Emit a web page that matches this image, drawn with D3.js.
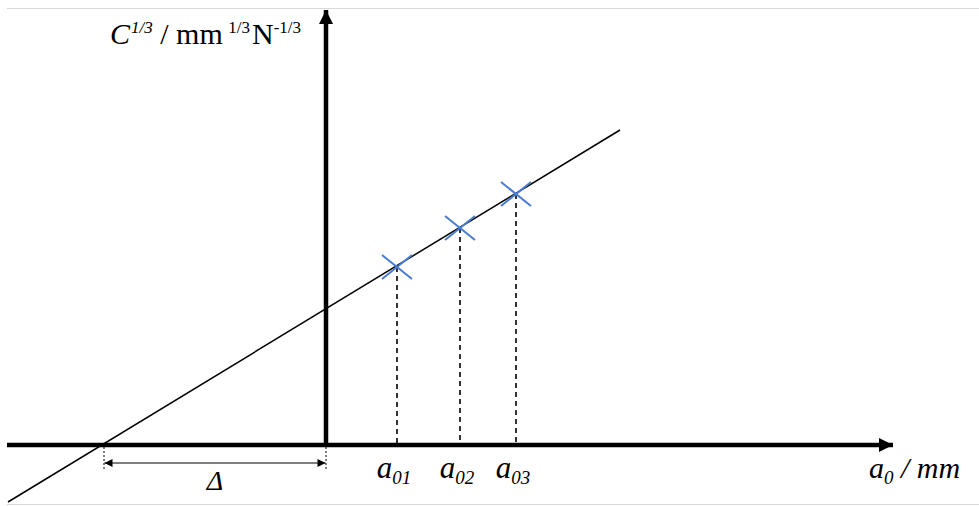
<!DOCTYPE html>
<html><head><meta charset="utf-8">
<script src="https://cdn.jsdelivr.net/npm/d3@7"></script>
<style>body{margin:0;background:#fff}svg{display:block}text{font-family:"Liberation Serif","Times New Roman",serif;fill:#000}</style>
</head><body>
<script>
// Data (arbitrary units; x origin at the vertical axis)
const pointLabels = ["01", "02", "03"];
const pointA = [7.1, 13.4, 19.0];
const pointC = [17.8, 21.7, 25.1];
const fitX = [-31.8, 29.4];
const fitY = [-5.7, 31.5];
const deltaRange = [-22.2, 0];
const xAxisRange = [-31.9, 56.7];
const yAxisRange = [0, 43.5];

const W = 979, H = 506;
const svg = d3.select("body").append("svg").attr("width", W).attr("height", H);

const x = d3.scaleLinear().domain([0, 10]).range([326, 426]);
const y = d3.scaleLinear().domain([0, 10]).range([445, 345]);

// thin gray frame lines
svg.append("line").attr("x1", 7).attr("x2", W).attr("y1", 8.5).attr("y2", 8.5).attr("stroke", "#d9d9d9").attr("stroke-width", 1);
svg.append("line").attr("x1", 7).attr("x2", W).attr("y1", 504.5).attr("y2", 504.5).attr("stroke", "#d9d9d9").attr("stroke-width", 1);

const defs = svg.append("defs");
defs.append("marker").attr("id", "axhead").attr("viewBox", "0 0 10 10").attr("refX", 10).attr("refY", 5)
  .attr("markerUnits", "userSpaceOnUse").attr("markerWidth", 14).attr("markerHeight", 15).attr("orient", "auto")
  .append("path").attr("d", "M0,0L10,5L0,10Z").attr("fill", "#000");
defs.append("marker").attr("id", "dhead").attr("viewBox", "0 0 10 10").attr("refX", 10).attr("refY", 5)
  .attr("markerUnits", "userSpaceOnUse").attr("markerWidth", 9).attr("markerHeight", 8).attr("orient", "auto-start-reverse")
  .append("path").attr("d", "M0,0L10,5L0,10Z").attr("fill", "#000");

// dashed drop lines
const pts = pointA.map((a, i) => ({a, c: pointC[i], lab: pointLabels[i]}));
svg.selectAll(".drop").data(pts).join("line")
  .attr("x1", d => x(d.a)).attr("x2", d => x(d.a))
  .attr("y1", d => y(d.c)).attr("y2", y(0))
  .attr("stroke", "#000").attr("stroke-width", 1.6).attr("stroke-dasharray", "5,4");

// fitted line
svg.append("line").attr("x1", x(fitX[0])).attr("y1", y(fitY[0])).attr("x2", x(fitX[1])).attr("y2", y(fitY[1]))
  .attr("stroke", "#000").attr("stroke-width", 1.5);

// axes
svg.append("line").attr("x1", x(xAxisRange[0])).attr("x2", x(xAxisRange[1])).attr("y1", y(0)).attr("y2", y(0))
  .attr("stroke", "#000").attr("stroke-width", 4.5).attr("marker-end", "url(#axhead)");
svg.append("line").attr("x1", x(0)).attr("x2", x(0)).attr("y1", y(yAxisRange[0]) + 2).attr("y2", y(yAxisRange[1]))
  .attr("stroke", "#000").attr("stroke-width", 4.5).attr("marker-end", "url(#axhead)");

// crosses
const cg = svg.selectAll(".cross").data(pts).join("g").attr("transform", d => `translate(${x(d.a)},${y(d.c)})`);
cg.append("line").attr("x1", -15).attr("y1", -12).attr("x2", 15).attr("y2", 12).attr("stroke", "#4a7bd0").attr("stroke-width", 2);
cg.append("line").attr("x1", -15).attr("y1", 12).attr("x2", 15).attr("y2", -12).attr("stroke", "#4a7bd0").attr("stroke-width", 2);

// delta
deltaRange.forEach(v => {
  svg.append("line").attr("x1", x(v)).attr("x2", x(v)).attr("y1", y(0) + 2).attr("y2", y(0) + 26)
    .attr("stroke", "#000").attr("stroke-width", 1).attr("stroke-dasharray", "2,2");
});
svg.append("line").attr("x1", x(deltaRange[0]) + 0.5).attr("x2", x(deltaRange[1]) - 0.5).attr("y1", 463).attr("y2", 463)
  .attr("stroke", "#000").attr("stroke-width", 1.2).attr("marker-start", "url(#dhead)").attr("marker-end", "url(#dhead)");
svg.append("text").attr("x", x((deltaRange[0] + deltaRange[1]) / 2)).attr("y", 490).attr("text-anchor", "middle")
  .attr("font-size", 28).attr("font-style", "italic").text("Δ");

// point labels
const lt = svg.selectAll(".plab").data(pts).join("text")
  .attr("x", d => x(d.a) - 3).attr("y", 478).attr("text-anchor", "middle")
  .attr("font-size", 31).attr("font-style", "italic");
lt.append("tspan").text("a");
lt.append("tspan").attr("font-size", 19).attr("dy", 6).text(d => d.lab);

// x label
const xl = svg.append("text").attr("x", 869).attr("y", 478).attr("font-size", 30).attr("font-style", "italic");
xl.append("tspan").text("a");
xl.append("tspan").attr("font-size", 19).attr("dy", 6).text("0");
xl.append("tspan").attr("dy", -6).text(" / mm");

// y label
const yl = svg.append("text").attr("x", 110).attr("y", 44).attr("font-size", 30);
yl.append("tspan").attr("font-style", "italic").text("C");
yl.append("tspan").attr("font-style", "italic").attr("font-size", 17).attr("dy", -11).attr("dx", 1).text("1/3");
yl.append("tspan").attr("dy", 11).text(" / mm ");
yl.append("tspan").attr("font-size", 17).attr("dy", -11).attr("dx", -2).text("1/3");
yl.append("tspan").attr("dy", 11).attr("dx", 2).text("N");
yl.append("tspan").attr("font-size", 17).attr("dy", -11).text("-1/3");
</script>
</body></html>
